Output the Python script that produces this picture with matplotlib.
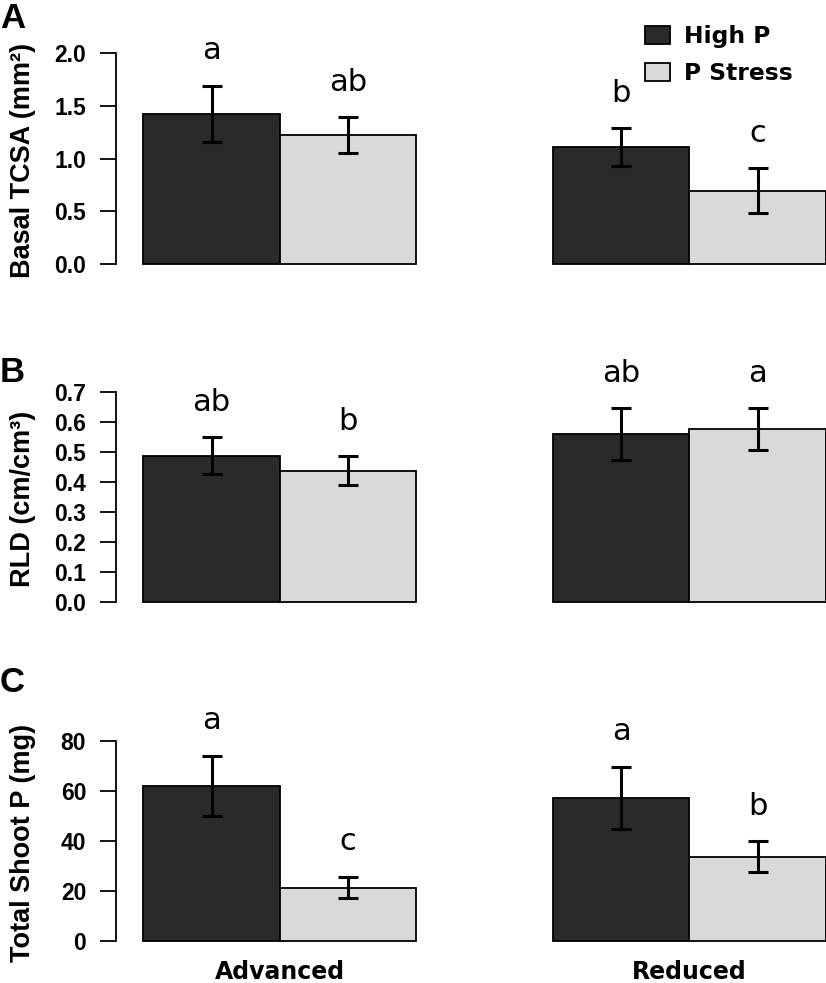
import matplotlib
matplotlib.use("Agg")
from matplotlib import pyplot as plt
from matplotlib.patches import Patch

# Data (means and error-bar ends)
groups = ['Advanced', 'Reduced']
treatments = ['High P', 'P Stress']

tcsa = [[1.42, 1.22], [1.11, 0.69]]
tcsa_hi = [[1.69, 1.39], [1.29, 0.91]]
tcsa_lo = [[1.16, 1.05], [0.93, 0.48]]
tcsa_letters = [['a', 'ab'], ['b', 'c']]

rld = [[0.487, 0.437], [0.560, 0.577]]
rld_hi = [[0.550, 0.486], [0.646, 0.646]]
rld_lo = [[0.426, 0.390], [0.472, 0.506]]
rld_letters = [['ab', 'b'], ['ab', 'a']]

shoot_p = [[62.0, 21.4], [57.2, 33.7]]
shoot_p_hi = [[74.2, 25.7], [69.7, 39.9]]
shoot_p_lo = [[49.9, 17.3], [44.8, 27.8]]
shoot_p_letters = [['a', 'c'], ['a', 'b']]

panels = [
    ('A', 'Basal TCSA (mm²)', tcsa, tcsa_hi, tcsa_lo, tcsa_letters,
     (0, 2.0), [0, 0.5, 1.0, 1.5, 2.0], '{:.1f}'),
    ('B', 'RLD (cm/cm³)', rld, rld_hi, rld_lo, rld_letters,
     (0, 0.7), [0, 0.1, 0.2, 0.3, 0.4, 0.5, 0.6, 0.7], '{:.1f}'),
    ('C', 'Total Shoot P (mg)', shoot_p, shoot_p_hi, shoot_p_lo, shoot_p_letters,
     (0, 80), [0, 20, 40, 60, 80], '{:.0f}'),
]

colors = ['#2a2a2a', '#d9d9d9']
W, H = 826, 983
fig = plt.figure(figsize=(W / 100, H / 100), dpi=100)

# axes boxes in pixels: (top, bottom) of the y range
boxes = [(53, 264), (392, 602), (741, 941)]
letter_pos = [18, 372, 683]

arial = 'Liberation Sans'
dv = 'DejaVu Sans'

axes = []
for i, (tag, ylabel, vals, hi, lo, letters, ylim, yticks, fmt) in enumerate(panels):
    top, bot = boxes[i]
    ax = fig.add_axes([116 / W, 1 - bot / H, 710 / W, (bot - top) / H])
    axes.append(ax)
    for g in range(2):
        for t in range(2):
            x = 0.2 + g * 3 + t
            v = vals[g][t]
            ax.bar(x, v, width=1, align='edge', color=colors[t],
                   edgecolor='black', linewidth=1.3, clip_on=False, zorder=2)
            xc = x + 0.5
            ax.errorbar(xc, v, yerr=[[v - lo[g][t]], [hi[g][t] - v]],
                        fmt='none', ecolor='black', elinewidth=2.2,
                        capsize=7, capthick=2.2, clip_on=False, zorder=3)
            ax.annotate(letters[g][t], (xc, hi[g][t]), xytext=(0, 19),
                        textcoords='offset points', ha='center', va='baseline',
                        fontsize=22, family=dv, annotation_clip=False)
    ax.set_xlim(0, 5.2)
    ax.set_ylim(*ylim)
    ax.set_yticks(yticks)
    ax.set_yticklabels([fmt.format(v) for v in yticks], family=arial,
                       fontweight='bold', fontsize=16.5)
    ax.tick_params(axis='y', length=11.5, width=1.3, pad=10, direction='out')
    for s in ['top', 'right', 'bottom']:
        ax.spines[s].set_visible(False)
    ax.spines['left'].set_linewidth(1.3)
    ax.set_ylabel(ylabel, family=arial, fontweight='bold', fontsize=19.5)
    ax.yaxis.set_label_coords(-0.112, 0.49)
    fig.text(0, 1 - letter_pos[i] / H, tag, family=arial, fontweight='bold',
             fontsize=25, ha='left', va='center')
    if i < 2:
        ax.set_xticks([])
    else:
        ax.set_xticks([1.2, 4.2])
        ax.set_xticklabels(groups, family=dv, fontweight='bold', fontsize=17)
        ax.tick_params(axis='x', length=0, pad=14)

handles = [Patch(facecolor=colors[k], edgecolor='black', linewidth=1.3)
           for k in range(2)]
fig.legend(handles, treatments, loc='upper left',
           bbox_to_anchor=(645 / W, 1 - 25 / H), frameon=False,
           prop={'family': dv, 'weight': 'bold', 'size': 16.8},
           handlelength=1.05, handleheight=0.85, handletextpad=0.6,
           labelspacing=0.6, borderpad=0, borderaxespad=0)

fig.savefig('out.png', dpi=100, facecolor='white')
